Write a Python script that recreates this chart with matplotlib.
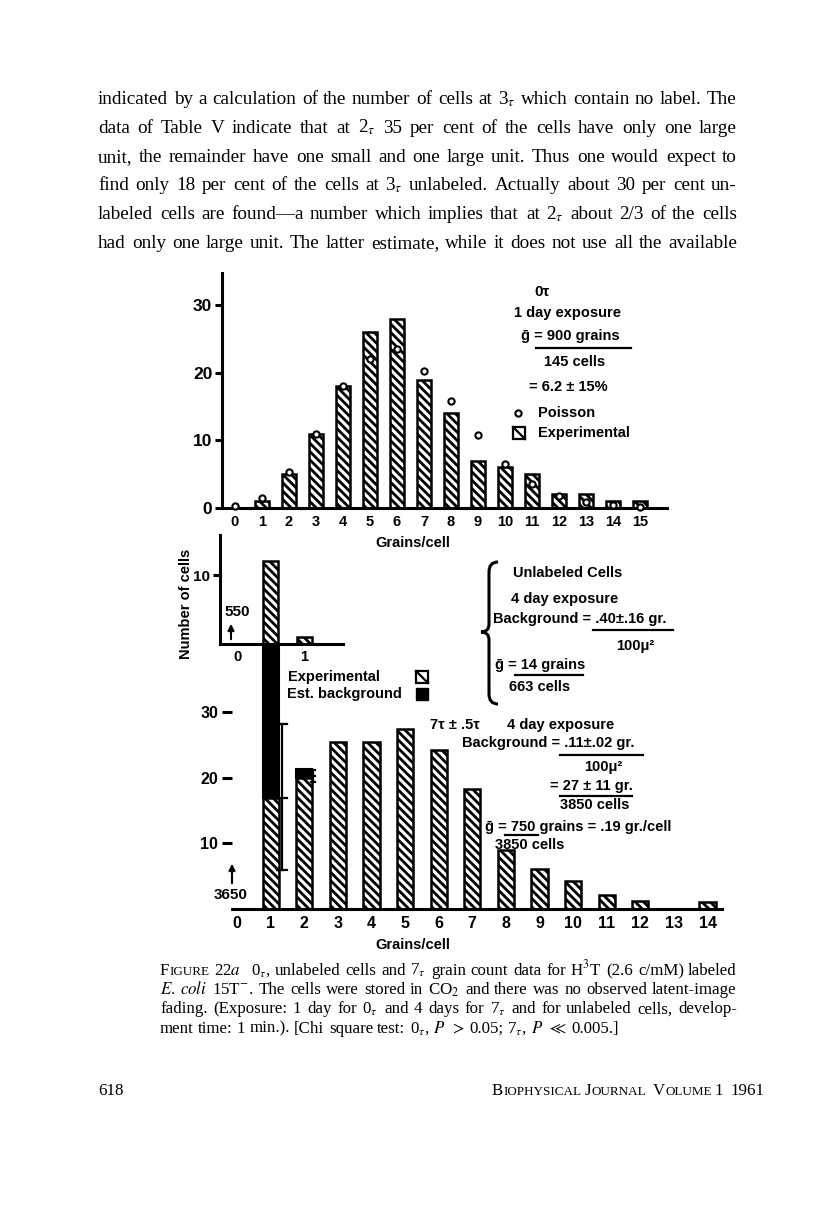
import matplotlib
matplotlib.use("Agg")
import matplotlib.pyplot as plt
from matplotlib.patches import Rectangle
from matplotlib.path import Path
from matplotlib.patches import PathPatch

W, H = 816, 1229
plt.rcParams['mathtext.fontset'] = 'stix'
plt.rcParams['hatch.linewidth'] = 2.0
SERIF = ['Liberation Serif', 'DejaVu Serif']
SANS = ['Liberation Sans', 'DejaVu Sans']

# ---- data ----
# 0 tau, 1 day exposure, 145 cells
grains0 = list(range(1, 16))
exp0 = [1, 5, 11, 18, 26, 28, 19, 14, 7, 6, 5, 2, 2, 1, 1]
poisson_k = list(range(0, 16))
poisson0 = [0.3, 1.5, 5.4, 11, 18, 22, 23.5, 20.3, 15.8, 10.8, 6.5, 3.5, 1.8, 0.9, 0.4, 0.2]

# unlabeled cells, 4 day exposure
grains_u = [1, 2]
exp_u = [12, 1]
unl_ticks = [0, 2]
unl_ticklabels = ['0', '1']

# 7 tau, 4 day exposure
grains7 = list(range(1, 15))
exp7 = [17, 20, 25.5, 25.5, 27.5, 24.3, 18.3, 9, 6.1, 4.3, 2.1, 1.2, 0, 1.1]
bg_grains = [1, 2]
bg_low = [17, 20]
bg_high = [45, 21.4]
err_x = [1.35, 2.25]
err_mid = [17, 20.3]
err_lo = [6, 19.4]
err_hi = [28.2, 21.2]

para = [
    "indicated by a calculation of the number of cells at 3$_\\tau$ which contain no label. The",
    "data of Table V indicate that at 2$_\\tau$ 35 per cent of the cells have only one large",
    "unit, the remainder have one small and one large unit. Thus one would expect to",
    "find only 18 per cent of the cells at 3$_\\tau$ unlabeled. Actually about 30 per cent un-",
    "labeled cells are found\u2014a number which implies that at 2$_\\tau$ about 2/3 of the cells",
    "had only one large unit. The latter estimate, while it does not use all the available",
]
caption = [
    "^Figure 22$a$  0$_\\tau$, unlabeled cells and 7$_\\tau$ grain count data for H$^3$T (2.6 c/mM) labeled",
    "$E.$ $coli$ 15T$^{-}$. The cells were stored in CO$_2$ and there was no observed latent-image",
    "fading. (Exposure: 1 day for 0$_\\tau$ and 4 days for 7$_\\tau$ and for unlabeled cells, develop-",
    "ment time: 1 min.). [Chi square test: 0$_\\tau$, $P$ $>$ 0.05; 7$_\\tau$, $P$ $\\ll$ 0.005.]",
]

fig = plt.figure(figsize=(W / 100, H / 100), dpi=100)
fig.patch.set_facecolor('white')
renderer = fig.canvas.get_renderer()


def px_axes(x0, y0, x1, y1):
    ax = fig.add_axes([x0 / W, 1 - y1 / H, (x1 - x0) / W, (y1 - y0) / H])
    ax.patch.set_visible(False)
    return ax


page = fig.add_axes([0, 0, 1, 1], zorder=10)
page.set_xlim(0, W)
page.set_ylim(H, 0)
page.axis('off')
page.patch.set_visible(False)


def word_objs(w, size):
    if w.startswith('^'):  # small caps
        w = w[1:]
        parts = [(w[0].upper(), size), (w[1:].upper(), size * 0.78)]
    else:
        parts = [(w, size)]
    return [page.text(0, 0, s, fontsize=fs, family=SERIF, va='baseline', ha='left')
            for s, fs in parts if s]


def natural_width(line, size):
    t = page.text(0, 0, line.replace('^', ''), fontsize=size, family=SERIF)
    w = t.get_window_extent(renderer).width
    t.remove()
    return w


def fit_size(lines, width, s0=10.0):
    return s0 * (width - 10) / max(natural_width(l, s0) for l in lines)


def set_line(line, x0, x1, y, size, justify=True):
    words = [word_objs(w, size) for w in line.split(' ')]
    widths = [sum(t.get_window_extent(renderer).width for t in ws) for ws in words]
    if justify and len(words) > 1:
        gap = (x1 - x0 - sum(widths)) / (len(words) - 1)
    else:
        gap = size * 0.25 * 100 / 72
    x = x0
    for ws in words:
        for t in ws:
            t.set_position((round(x), y))
            x += t.get_window_extent(renderer).width
        x += gap


ps = fit_size(para, 737 - 98)
for i, line in enumerate(para):
    set_line(line, 98, 737, 104 + 28.8 * i, ps)
cs = fit_size(caption[:3], 737 - 160)
for i, line in enumerate(caption):
    set_line(line, 160, 737, 975 + 19.2 * i, cs, justify=(i < 3))
set_line("618", 98, 200, 1095, cs, justify=False)
set_line("^Biophysical ^Journal  ^Volume 1  1961", 492, 765, 1095, cs)

LW = 2.2
bar_kw = dict(facecolor='white', edgecolor='black', linewidth=1.8, hatch='\\\\\\\\')
lab = dict(family=SANS, fontweight='bold', color='black')


def style_axes(ax):
    for s in ('top', 'right'):
        ax.spines[s].set_visible(False)
    ax.spines['left'].set_linewidth(LW)
    ax.spines['bottom'].set_linewidth(LW)
    ax.tick_params(axis='x', length=0, pad=5)
    ax.tick_params(axis='y', direction='out', length=5, width=LW, pad=2)
    for t in ax.get_xticklabels() + ax.get_yticklabels():
        t.set_fontfamily(SANS)
        t.set_fontweight('bold')


# ---- top panel: 0 tau ----
ax0 = px_axes(222, 273, 667, 508)
ax0.bar(grains0, exp0, width=0.55, **bar_kw)
ax0.plot(poisson_k, poisson0, 'o', mfc='white', mec='black', ms=4.5, mew=1.5, zorder=5, clip_on=False)
ax0.set_xlim(-0.48, 16.0)
ax0.set_ylim(0, 34.8)
ax0.set_xticks(range(0, 16))
ax0.set_yticks([0, 10, 20, 30])
style_axes(ax0)
ax0.tick_params(axis='x', labelsize=10.5)
ax0.tick_params(axis='y', labelsize=12.5)

page.text(542, 292, "0\u03c4", fontsize=11, ha='center', va='center', **lab)
page.text(568, 313, "1 day exposure", fontsize=10.5, ha='center', va='center', **lab)
page.text(570, 336, "\u1e21 = 900 grains", fontsize=10.5, ha='center', va='center', **lab)
page.plot([536, 631], [348, 348], color='black', lw=1.6)
page.text(575, 362, "145 cells", fontsize=10.5, ha='center', va='center', **lab)
page.text(568, 387, "= 6.2 \u00b1 15%", fontsize=10.5, ha='center', va='center', **lab)
page.plot([518], [413], 'o', mfc='white', mec='black', ms=4.5, mew=1.5)
page.text(538, 413, "Poisson", fontsize=10.5, ha='left', va='center', **lab)
page.add_patch(Rectangle((513, 427), 12, 12, fill=False, lw=1.6))
page.plot([513, 525], [427, 439], color='black', lw=1.6)
page.text(538, 433, "Experimental", fontsize=10.5, ha='left', va='center', **lab)
page.text(413, 543, "Grains/cell", fontsize=10.5, ha='center', va='center', **lab)

# ---- middle panel: unlabeled cells ----
axu = px_axes(220, 535, 343, 644)
axu.bar(grains_u, exp_u, width=0.45, **bar_kw)
axu.set_xlim(-0.506, 3.155)
axu.set_ylim(0, 15.8)
axu.set_xticks(unl_ticks)
axu.set_xticklabels(unl_ticklabels)
axu.set_yticks([10])
style_axes(axu)
axu.tick_params(axis='x', labelsize=10.5, pad=4)
axu.tick_params(axis='y', labelsize=11)

page.text(237, 612, "550", fontsize=11, ha='center', va='center', **lab)
page.annotate('', xy=(231, 621), xytext=(231, 642),
              arrowprops=dict(arrowstyle='-|>', color='black', lw=1.5, mutation_scale=9))
page.text(186, 604, "Number of cells", fontsize=10.5, rotation=90, ha='center', va='center', **lab)
page.text(288, 677, "Experimental", fontsize=10.5, ha='left', va='center', **lab)
page.add_patch(Rectangle((416, 671), 12, 12, fill=False, lw=1.6))
page.plot([416, 428], [671, 683], color='black', lw=1.6)
page.text(287, 694, "Est. background", fontsize=10.5, ha='left', va='center', **lab)
page.add_patch(Rectangle((416, 688), 12, 12, color='black'))

# curly brace
verts = [(498, 562), (489, 562), (489, 572), (489, 624), (489, 632), (481, 632),
         (489, 632), (489, 640), (489, 694), (489, 704), (498, 704)]
codes = [Path.MOVETO, Path.CURVE3, Path.CURVE3, Path.LINETO, Path.CURVE3, Path.CURVE3,
         Path.CURVE3, Path.CURVE3, Path.LINETO, Path.CURVE3, Path.CURVE3]
page.add_patch(PathPatch(Path(verts, codes), fill=False, lw=2.2))
page.text(568, 573, "Unlabeled Cells", fontsize=10.5, ha='center', va='center', **lab)
page.text(565, 599, "4 day exposure", fontsize=10.5, ha='center', va='center', **lab)
page.text(493, 619, "Background = .40\u00b1.16 gr.", fontsize=10.5, ha='left', va='center', **lab)
page.plot([593, 673], [630, 630], color='black', lw=1.6)
page.text(635, 646, "100\u03bc\u00b2", fontsize=10.5, ha='center', va='center', **lab)
page.text(495, 665, "\u1e21 = 14 grains", fontsize=10.5, ha='left', va='center', **lab)
page.plot([515, 583], [675, 675], color='black', lw=1.6)
page.text(540, 687, "663 cells", fontsize=10.5, ha='center', va='center', **lab)

# ---- bottom panel: 7 tau ----
ax7 = px_axes(232, 643, 722, 909)
ax7.bar(grains7, exp7, width=0.48, **bar_kw)
bg_h = [h - l for l, h in zip(bg_low, bg_high)]
ax7.bar(bg_grains, bg_h, bottom=bg_low, width=0.48, color='black', edgecolor='black', linewidth=1.5)
for x, m, lo, hi in zip(err_x, err_mid, err_lo, err_hi):
    cap = 0.15 if hi - lo > 5 else 0.06
    ax7.plot([x, x], [lo, hi], color='black', lw=1.6)
    for yy in (lo, m, hi):
        ax7.plot([x - cap, x + cap], [yy, yy], color='black', lw=1.6)
ax7.set_xlim(-0.15, 14.43)
ax7.set_ylim(0, 40.6)
ax7.set_xticks(range(0, 15))
ax7.set_yticks([10, 20, 30])
style_axes(ax7)
ax7.spines['left'].set_visible(False)
ax7.tick_params(axis='y', length=7, pad=3, labelsize=11.5)
ax7.tick_params(axis='x', labelsize=11.5, pad=5)

page.text(430, 725, "7\u03c4 \u00b1 .5\u03c4", fontsize=10.5, ha='left', va='center', **lab)
page.text(507, 725, "4 day exposure", fontsize=10.5, ha='left', va='center', **lab)
page.text(462, 743, "Background = .11\u00b1.02 gr.", fontsize=10.5, ha='left', va='center', **lab)
page.plot([560, 643], [755, 755], color='black', lw=1.6)
page.text(603, 767, "100\u03bc\u00b2", fontsize=10.5, ha='center', va='center', **lab)
page.text(550, 786, "= 27 \u00b1 11 gr.", fontsize=10.5, ha='left', va='center', **lab)
page.plot([560, 632], [796, 796], color='black', lw=1.6)
page.text(560, 805, "3850 cells", fontsize=10.5, ha='left', va='center', **lab)
page.text(485, 827, "\u1e21 = 750 grains = .19 gr./cell", fontsize=10.5, ha='left', va='center', **lab)
page.plot([505, 538], [835, 835], color='black', lw=1.6)
page.text(495, 845, "3850 cells", fontsize=10.5, ha='left', va='center', **lab)
page.text(231, 895, "3650", fontsize=11, ha='center', va='center', **lab)
page.annotate('', xy=(232, 861), xytext=(232, 886),
              arrowprops=dict(arrowstyle='-|>', color='black', lw=1.5, mutation_scale=9))
page.text(413, 945, "Grains/cell", fontsize=10.5, ha='center', va='center', **lab)

fig.savefig("out.png", dpi=100, facecolor='white')
